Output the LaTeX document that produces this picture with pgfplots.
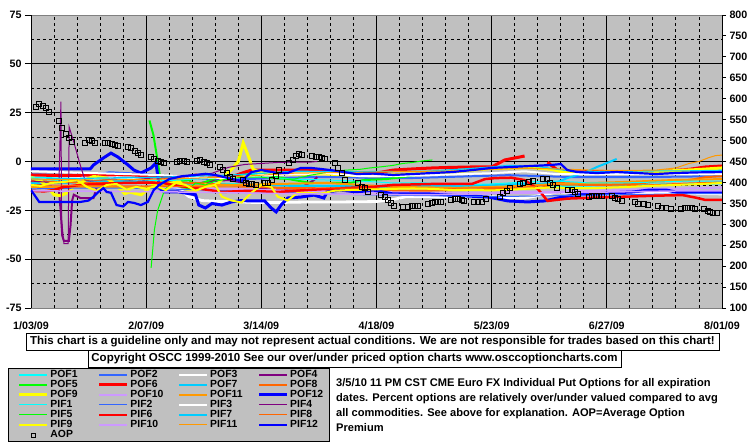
\documentclass[border=0pt]{standalone}
\usepackage{pgfplots}
\pgfplotsset{compat=1.18}
\usepackage{fontspec}
\setmainfont{Liberation Sans}
\definecolor{bggray}{HTML}{C0C0C0}
\definecolor{bordergray}{HTML}{808080}
\definecolor{cyanx}{HTML}{00FFFF}
\definecolor{royal}{HTML}{3366FF}
\definecolor{purp}{HTML}{800080}
\definecolor{limex}{HTML}{00FF00}
\definecolor{redx}{HTML}{FF0000}
\definecolor{sky}{HTML}{00CCFF}
\definecolor{orangea}{HTML}{FF6600}
\definecolor{yellowx}{HTML}{FFFF00}
\definecolor{lav}{HTML}{CC99FF}
\definecolor{orangeb}{HTML}{FF9900}
\definecolor{bluex}{HTML}{0000FF}
\newcommand{\tf}{\bfseries\fontsize{10.7}{12}\selectfont}
\newcommand{\lf}{\bfseries\fontsize{10.4}{10}\selectfont}
\newcommand{\bx}{\bfseries\fontsize{11.5}{12}\selectfont}
\newcommand{\rx}{\bfseries\fontsize{11.1}{12}\selectfont}
\newcommand{\LE}[1]{\makebox[49pt][l]{\hspace{1.5pt}#1}}
\newcommand{\LF}[1]{\makebox[31pt][l]{\hspace{1.5pt}#1}}
\begin{document}
\begin{tikzpicture}
\path[use as bounding box] (0pt,0pt) rectangle (755pt,446pt);
\begin{axis}[
 at={(31pt,138pt)}, anchor=south west, scale only axis, width=691pt, height=293pt,
 xmin=0, xmax=210, ymin=-75, ymax=75,
 axis background/.style={fill=bggray},
 xtick={0,35,70,105,140,175,210},
 xticklabels={1/03/09,2/07/09,3/14/09,4/18/09,5/23/09,6/27/09,8/01/09},
 minor xtick={7,14,21,28,42,49,56,63,77,84,91,98,112,119,126,133,147,154,161,168,182,189,196,203},
 ytick={-75,-50,-25,0,25,50,75},
 yticklabels={-75,-50,-25,0,25,50,75},
 minor ytick={-62.5,-37.5,-12.5,12.5,37.5,62.5},
 grid=both,
 major grid style={black, line width=0.9pt},
 minor grid style={black, line width=0.9pt, dash pattern=on 3pt off 3pt},
 tick align=outside, major tick length=6pt, minor tick length=0pt,
 xtick style={draw=none}, ytick style={black, line width=0.9pt},
 ytick pos=left, xtick pos=bottom,
 separate axis lines,
 every outer x axis line/.append style={bordergray, line width=0.9pt},
 every outer y axis line/.append style={black, line width=0.9pt},
 ticklabel style={font=\tf},
 xticklabel style={yshift=-4pt},
 unbounded coords=jump,
 legend columns=4,
 legend style={at={(-0.03329,-0.2048)}, anchor=north west, fill=bggray, draw=black, line width=0.9pt, inner xsep=9.5pt, inner ysep=1.5pt, font=\lf, column sep=0pt, row sep=0pt, nodes={inner sep=0pt, text height=7.2pt, text depth=2.8pt}, cells={anchor=west}},
 legend image code/.code={\draw[mark repeat=2,mark phase=2,#1] plot coordinates {(0pt,0pt) (14pt,0pt) (28pt,0pt)};},
]
% POF1
\addplot[cyanx, line width=2pt] coordinates {(0,-11)(5,-10)(10,-9.5)(15,-10.5)(20,-11)(25,-10.5)(30,-10)(35,-11)(40,-10)(50,-11)(60,-11.5)(70,-12)(80,-12)(90,-12.5)(100,-13)(110,-13)(120,-12.8)(130,-12.5)(140,-12)(150,-11.8)(160,-12.5)(170,-12.3)(180,-12)(190,-11.8)(200,-11.5)(210,-11.2)};
\addlegendentry{\LE{POF1}}
% POF2
\addplot[royal, line width=2pt] coordinates {(0,-6.5)(10,-7)(20,-6.5)(24,-5.5)(28,-5.9)(33,-6.2)(38,-7)(45,-8)(55,-9)(65,-9)(75,-8.5)(85,-8)(95,-8)(105,-8.5)(115,-8.5)(125,-8)(135,-7.5)(145,-7)(155,-7.5)(165,-8)(175,-8)(185,-8)(195,-7.8)(210,-7.5)};
\addlegendentry{\LE{POF2}}
% POF3
\addplot[white, line width=2.8pt] coordinates {(0,-8)(5,-9)(10,-8.5)(15,-8)(20,-9)(25,-8)(30,-9)(35,-10)(40,-11)(45,-14)(48,-18)(52,-20)(58,-20.5)(64,-20.7)(68,-21)(75,-21)(85,-20.7)(95,-20.7)(105,-20.5)(110,-19.5)(114,-18)(120,-18)(126,-18.2)(132,-18)(138,-17.8)(144,-18.5)(150,-18.7)(156,-17)(160,-15.6)(168,-16.5)(178,-16.6)(188,-16.2)(196,-15.9)(202,-16.3)(210,-16.6)};
\addlegendentry{\LE{POF3}}
% POF4
\addplot[purp, line width=2pt] coordinates {(0,-12)(3,-12)(6,-13)(8.5,-15)(9,-25)(9.5,-38)(10,-40.7)(11.5,-40.7)(12,-33)(12.5,-20)(13,-17)(15,-18.7)(17,-18.7)(19,-18.7)(20,-13)(22,-9.5)(26,-9.5)(30,-10.5)(35,-10)(40,-11)(45,-12)(50,-11.5)(55,-10)(60,-9.5)(65,-11)(70,-14)(75,-14.6)(80,-14.6)(83,-12.5)(86,-9.5)(87,-8)};
\addlegendentry{\LF{POF4}}
% POF5
\addplot[limex, line width=2pt] coordinates {(36,21)(37.2,13.6)(38.2,3.3)(39,-5.4)(39.5,-10.5)(40.5,-13.6)(42,-12)(45,-10)(48,-9.5)(50,-12)(53,-10.5)(56,-8.5)(60,-7.7)(65,-6.5)(70,-6)(75,-8)(80,-9.5)(85,-11)(90,-11)(97,-11)(101,-9.5)(108,-9)(115,-7.5)(119,-6.4)(122,-6)};
\addlegendentry{\LE{POF5}}
% POF6
\addplot[redx, line width=3pt] coordinates {(0,-6.9)(10,-7.2)(20,-6.9)(30,-6.7)(40,-8)(45,-8.5)(50,-7)(55,-7.5)(60,-8.5)(64,-6)(67,-4.4)(75,-4.4)(82,-4.4)(90,-4.7)(95,-5.9)(100,-6.4)(104,-6.2)(110,-4.4)(116,-3.8)(122,-3.3)(128,-3)(134,-2.8)(140,-2.8)(142,-1)(144,0.8)(147,1.8)(150,2.8)(153,nan)(157,-0.3)(158,-1.8)(160,-4.4)(163,-5.4)(170,-5.2)(180,-5.4)(190,-5.4)(200,-4)(205,-2.8)(210,-2.3)};
\addlegendentry{\LE{POF6}}
% POF7
\addplot[sky, line width=2pt] coordinates {(0,-11)(10,-11)(20,-10)(30,-10)(40,-11)(50,-12)(60,-12)(70,-12)(80,-12.5)(90,-12.5)(100,-12.5)(110,-12.5)(120,-12.5)(130,-12.5)(140,-12)(150,-11.5)(155,-11.5)(157,-11)(160,-10.5)(163,-8.5)(166,-6.9)(168,-5.9)(170,-4.4)(172,-2.8)(175,-0.8)(178,1.3)};
\addlegendentry{\LE{POF7}}
% POF8
\addplot[orangea, line width=2pt] coordinates {(0,-10)(10,-10.5)(20,-11)(30,-11)(40,-10.5)(50,-11)(60,-12)(70,-13)(80,-14)(90,-14.6)(100,-15)(110,-15)(118,-15.2)(125,-14.8)(132,-14.6)(140,-14)(148,-13.8)(155,-13.6)(158,-12)(160,-11)(168,-11.5)(176,-11.8)(184,-11.5)(190,-10.2)(196,-10)(200,-9.5)(205,-8)(210,-7.5)};
\addlegendentry{\LF{POF8}}
% POF9
\addplot[yellowx, line width=3pt] coordinates {(0,-8)(3,-10)(5,-13)(7,-17)(9,-17.5)(11,-16)(13,-13)(15,-11)(17,-9)(19,-7.7)(21,-8)(23,-8.5)(25,-11)(27,-14)(28.5,-16.5)(30,-15.6)(32,-16.5)(33.5,-17)(35,-15)(37,-12)(39,-10)(41,-12)(43,-11)(45,-10)(47,-14)(49,-15)(51,-14)(53,-12)(55,-13)(57,-11)(59,-7)(61,-4)(63,0)(64.5,9.5)(66,3)(67.5,-4)(69,-5)(72,-5.5)(76,-6)(80,-6.5)(85,-6.4)(90,-6.4)(95,-6.9)(100,-7.2)(105,-7.4)(110,-6.9)(116,-6.4)(122,-6)(128,-5.4)(134,-4.4)(140,-3.6)(146,-3.3)(152,-3.1)(158,-4)(162,-5.4)(168,-5.9)(175,-6)(182,-5.9)(190,-5.4)(196,-4.6)(202,-4.2)(210,-3.3)};
\addlegendentry{\LE{POF9}}
% POF10
\addplot[lav, line width=2pt] coordinates {(0,-13)(20,-12)(40,-13)(60,-14)(80,-15)(100,-15.5)(120,-16)(140,-15.8)(160,-15.5)(170,-15)(180,-14.6)(190,-14)(200,-13.8)(210,-13.3)};
\addlegendentry{\LE{POF10}}
% POF11
\addplot[orangeb, line width=2pt] coordinates {(0,-13)(30,-13)(60,-12)(90,-11)(110,-13)(130,-13.5)(150,-12.5)(160,-11.5)(180,-10.5)(195,-9.5)(210,-9)};
\addlegendentry{\LE{POF11}}
% POF12
\addplot[bluex, line width=3pt] coordinates {(0,-3.8)(18,-3.8)(19,-1.8)(22,1.8)(24.3,4.3)(26.4,2.3)(29.5,-1.8)(31.3,-4.4)(33.4,-5.9)(36.5,-3.3)(38,-0.8)(39,-13.6)(40.5,-15.6)(45,-15.6)(50,-17)(51,-22.3)(53,-23.8)(55,-21.5)(58,-22.3)(61,-20.7)(64,-20)(67,-20.2)(71,-20.2)(73,-23.8)(74.5,-25.8)(76,-22.3)(78,-18.7)(82,-18.2)(86,-17.2)(89,-18.7)(90,-15.6)(94,-14.6)(99,-15.6)(104,-14.6)(110,-16.6)(116,-16.6)(121,-16.6)(127,-17.2)(133,-17.7)(139,-18.2)(145,-20.2)(151,-20.7)(156,-20.2)(160,-18.7)(165,-17.2)(171,-16.6)(177,-16)(183,-15.6)(188,-14.6)(193,-14.6)(197,-16)(201,-15.6)(205,-15.6)(210,-15.6)};
\addlegendentry{\LF{POF12}}
% PIF1
\addplot[cyanx, line width=1pt] coordinates {(0,-8)(10,-8.5)(20,-9)(30,-9)(40,-10)(50,-9)(60,-8)(70,-8)(80,-9)(90,-9.5)(100,-10)(110,-11)(120,-11)(130,-12)(140,-11.5)(150,-10.5)(160,-10)(170,-11)(180,-11)(190,-10.5)(200,-10)(210,-10)};
\addlegendentry{\LE{PIF1}}
% PIF2
\addplot[royal, line width=1pt] coordinates {(0,-14)(20,-13.5)(40,-14)(60,-15)(80,-16)(100,-17)(120,-17.5)(140,-18)(160,-17.5)(180,-17)(200,-16.5)(210,-16.5)};
\addlegendentry{\LE{PIF2}}
% PIF3
\addplot[white, line width=2pt] coordinates {(0,-5)(10,-5.5)(20,-6)(30,-6.5)(40,-7)(50,-8)(60,-8.5)(70,-7)(80,-6.5)(90,-6)(100,-7.5)(110,-7.5)(120,-7)(130,-6.5)(140,-6)(150,-5)(160,-6.5)(170,-6.5)(180,-6.3)(190,-6.5)(200,-6.5)(210,-6.4)};
\addlegendentry{\LE{PIF3}}
% PIF4
\addplot[purp, line width=1pt] coordinates {(0,-10)(8.5,-11)(9.1,30.6)(9.3,-30)(10,-42)(11.3,-42)(11.6,17.7)(13,10)(15,-2)(16.4,-9.5)(18,-10)(25,-9)(30,-9.5)(40,-8)(50,-7)(55,-6)(60,-3)(65,-1.5)(70,-1)(75,-0.5)(80,-0.3)(85,-0.3)(87,0)};
\addlegendentry{\LF{PIF4}}
% PIF5
\addplot[limex, line width=1pt] coordinates {(36.5,-54.5)(37,-45)(37.5,-35)(38.5,-25)(39.5,-20)(40.5,-15)(42,-12)(45,-13)(48,-14)(50,-11)(53,-12)(56,-10)(60,-9)(64,-8)(70,-8)(75,-9)(80,-9)(85,-7)(90,-5.5)(95,-4.5)(100,-4)(103,-3.3)(106,-2.8)(110,-2)(113,-1)(116,-0.5)(119,0.3)(122,0.8)};
\addlegendentry{\LE{PIF5}}
% PIF6
\addplot[redx, line width=2.5pt] coordinates {(0,-15)(4,-15.3)(7,-14.6)(10,-13)(15,-12)(20,-11.5)(28,-11)(35,-10.8)(40,-11)(45,-12.5)(50,-13.6)(58,-15.6)(66,-15)(75,-15.6)(85,-14.5)(95,-13.6)(104,-13)(110,-12)(122,-11.5)(134,-11.5)(138,-9)(141,-8.5)(146,-8.3)(150,-9.5)(154,-14)(157,-20.2)(163,-19)(168,-18.7)(177,-18.2)(190,-17.5)(198,-17.2)(202,-18.5)(205,-19.7)(210,-19.7)};
\addlegendentry{\LE{PIF6}}
% PIF7
\addplot[sky, line width=1.2pt] coordinates {(0,-9)(20,-8.5)(40,-8)(60,-7)(80,-5)(100,-5.2)(120,-5)(130,-4)(140,-2.8)(145,-2)(150,-2.3)(155,-2.8)(160,-4)(165,-5)(170,-5.3)(180,-5)(190,-4.8)(200,-4.8)(210,-4.5)};
\addlegendentry{\LE{PIF7}}
% PIF8
\addplot[orangea, line width=1pt] coordinates {(0,-12)(30,-12.5)(60,-13)(90,-13.5)(120,-14)(150,-13)(160,-12)(180,-12.5)(200,-11)(210,-10.5)};
\addlegendentry{\LF{PIF8}}
% PIF9
\addplot[yellowx, line width=2pt] coordinates {(0,-12)(3,-12.5)(6,-11)(10,-10.5)(14,-9.5)(17,-13)(20,-15)(23,-12)(26,-11.5)(29,-14.4)(32,-13)(35,-14)(38,-12.5)(41,-14.6)(44,-11)(47,-12)(50,-15)(53,-13)(56,-12)(58,-18)(61,-20)(64,-21)(67,-16)(70,-12)(73,-13)(75,-18)(78,-20)(81,-16)(84,-16)(88,-16.5)(92,-15)(97,-14.6)(104,-14.3)(110,-14)(116,-13.8)(122,-14)(128,-14.6)(134,-14.6)(140,-14.8)(146,-14.4)(152,-13.8)(158,-13.3)(165,-13.6)(172,-13.6)(180,-13.1)(188,-12.5)(196,-12)(204,-11.5)(210,-11)};
\addlegendentry{\LE{PIF9}}
% PIF10
\addplot[lav, line width=1.5pt] coordinates {(0,-15)(40,-15.5)(80,-16.5)(120,-17)(160,-16)(200,-15)(210,-15)};
\addlegendentry{\LE{PIF10}}
% PIF11
\addplot[orangeb, line width=1pt] coordinates {(0,-9)(20,-9.5)(40,-9)(60,-8)(80,-6)(100,-5.5)(120,-5)(130,-4.8)(140,-4)(150,-3.5)(160,-3.8)(170,-4.4)(180,-4.6)(190,-4.4)(196,-3.3)(200,-1)(203,0)(206,2)(208,3)(210,3.3)};
\addlegendentry{\LE{PIF11}}
% PIF12
\addplot[bluex, line width=2.2pt] coordinates {(0,-14.6)(2.5,-20.7)(4,-20.7)(15,-20.7)(17.5,-20)(19,-18)(20.5,-15.6)(22,-13.6)(23,-15.6)(24.3,-16)(26,-22.3)(28,-23)(29.5,-20.7)(31.3,-21.2)(33.4,-22.3)(35.5,-20.7)(37.3,-14.6)(39,-12)(42,-9)(46,-7.5)(50,-6.9)(53,-6.3)(56,-6.9)(60,-8.5)(64,-10)(67,-5.4)(70,-4.4)(75,-5.9)(78,-5.9)(82,-3.3)(85,-3.3)(88,-3.8)(92,-4.6)(95,-5.4)(99,-6.4)(104,-6.2)(110,-6.9)(116,-6.4)(122,-5.9)(128,-5.4)(134,-4.4)(140,-3.3)(146,-2.8)(152,-2.3)(158,-1.8)(161,-1.3)(163,-4.4)(166,-5.4)(172,-5.9)(178,-5.4)(184,-5.9)(190,-6.4)(196,-5.9)(202,-5.6)(210,-5.4)};
\addlegendentry{\LF{PIF12}}
\addlegendimage{only marks, mark=square, mark size=2pt, mark options={black, line width=0.9pt, solid}}
\addlegendentry{\LE{AOP}}
\end{axis}
\begin{axis}[
 at={(31pt,138pt)}, anchor=south west, scale only axis, width=691pt, height=293pt,
 xmin=0, xmax=210, ymin=100, ymax=800,
 axis x line=none, axis y line*=right,
 y axis line style={black, line width=0.9pt, -},
 ytick={100,150,200,250,300,350,400,450,500,550,600,650,700,750,800},
 yticklabels={100,150,200,250,300,350,400,450,500,550,600,650,700,750,800},
 tick align=outside, major tick length=4pt, ytick style={black, line width=0.9pt},
 yticklabel style={font=\tf},
]
\addplot[only marks, mark=square, mark size=2.6pt, mark options={black, line width=0.9pt, solid}] coordinates {
(1.5,580)(2.4,587)(3.6,583)(4.6,578)(5.5,568)(8.5,547)(9.4,530)(10.6,516)(11.6,506)(12.5,497)
(16.4,494)(17.6,501)(18.5,499)(19.5,494)(22.5,494)(23.4,494)(24.6,492)(25.5,489)(26.4,487)
(29.5,485)(30.4,482)(31.6,475)(32.5,470)(33.4,466)(36.5,461)(37.4,456)(38.6,451)(39.5,449)(40.4,446)
(44.4,449)(45.3,451)(46.5,451)(47.4,449)(50.5,451)(51.4,454)(52.6,449)(53.5,446)(54.4,442)
(57.4,437)(58.4,430)(59.6,423)(60.5,413)(61.4,408)(64.4,406)(65.3,399)(66.3,396)(67.2,396)(68.4,394)
(71.1,399)(72,399)(73.3,406)(74.5,415)(75.4,430)(78.4,446)(79.6,454)(80.5,463)(81.5,468)(82.4,466)
(85.4,463)(86.6,461)(87.5,461)(88.4,458)(89.4,456)(92.4,446)(93.3,435)(94.5,423)(95.4,406)
(99.4,399)(100.6,389)(101.5,387)(102.4,377)(106.4,370)(107.6,365)(108.5,358)(109.4,351)(110.3,344)
(113.1,341)(114.6,341)(115.8,344)(116.7,344)(117.6,344)(120.7,348)(121.9,351)(122.8,353)(123.7,353)(124.6,353)
(127.7,358)(128.9,360)(129.8,360)(131,358)(131.6,356)(134.7,353)(135.9,353)(137.1,353)(138.3,360)
(142.6,365)(143.5,375)(144.7,380)(145.6,387)(148.6,396)(149.5,398)(151.4,401)(152.6,403)
(155.6,408)(156.8,408)(157.8,399)(158.7,394)(159.9,387)(163.2,382)(164.4,382)(165.3,377)(166.3,372)
(169.6,365)(170.5,368)(171.7,368)(172.6,368)(173.6,368)(176.6,368)(177.5,363)(178.4,360)(179.6,356)
(183.6,353)(184.5,348)(186.3,348)(187.5,346)(190.6,344)(191.8,339)(193,339)(194.5,337)
(197.6,337)(198.8,339)(199.7,339)(200.9,339)(201.8,337)(204.6,337)(205.8,332)(206.4,329)(207.3,327)(208.5,327)};
\end{axis}
\node[draw=black, line width=0.9pt, fill=white, minimum width=693pt, minimum height=17pt, inner sep=0pt, font=\bx] at (372.5pt,104.5pt) {This chart is a guideline only and may not represent actual conditions. We are not responsible for trades based on this chart!};
\node[draw=black, line width=0.9pt, fill=white, minimum width=533pt, minimum height=17pt, inner sep=0pt, font=\bx] at (354.5pt,87.5pt) {Copyright OSCC 1999-2010 See our over/under priced option charts www.osccoptioncharts.com};
\node[anchor=base west, inner sep=0pt, font=\rx] at (336pt,59pt) {3/5/10 11 PM CST CME Euro FX Individual Put Options for all expiration};
\node[anchor=base west, inner sep=0pt, font=\rx] at (336pt,44pt) {dates. Percent options are relatively over/under valued compared to avg};
\node[anchor=base west, inner sep=0pt, font=\rx] at (336pt,29.5pt) {all commodities. See above for explanation. AOP=Average Option};
\node[anchor=base west, inner sep=0pt, font=\rx] at (336pt,14.5pt) {Premium};
\end{tikzpicture}
\end{document}
